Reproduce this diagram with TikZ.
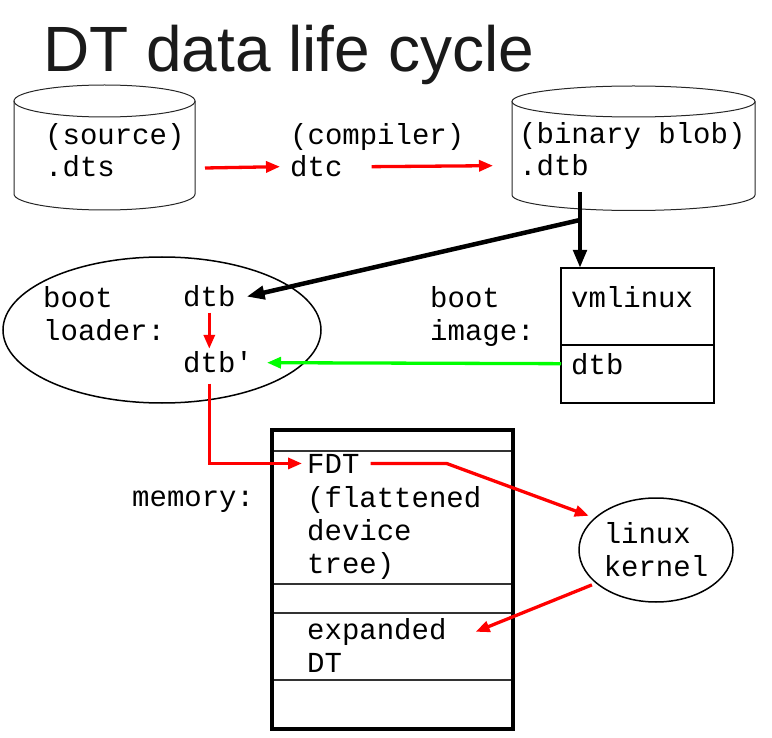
\documentclass[tikz,border=0pt]{standalone}
\usepackage{fontspec}
\setmainfont{Liberation Sans}
\setmonofont{Liberation Mono}
\usetikzlibrary{arrows.meta,calc,shapes.geometric}
\definecolor{titlegray}{HTML}{1A1A1A}
\def\drum(#1,#2:#3:#4:#5){\draw[drumline] (#1,#2) ellipse [x radius=#4, y radius=#5];
	\draw[drumline] ($(#1,#2)+(-#4,0)$) -- ($(#1,#3)+(-#4,0)$) arc [start angle=180, end angle=0, x radius=#4, y radius=#5] -- ($(#1,#2)+(#4,0)$);}
\tikzset{
	mono/.style={font=\ttfamily\fontsize{29}{33}\selectfont, inner sep=0pt, anchor=base west, align=left},
	drumline/.style={line width=1pt, black!85},
	redarr/.style={line width=3.3pt, red, -{Triangle[length=14pt,width=11pt]}},
	greenarr/.style={line width=3.3pt, green, -{Triangle[length=14pt,width=11pt]}},
	blackarr/.style={line width=4.5pt, black, -{Triangle[length=18pt,width=13pt]}},
}

\begin{document}
\begin{tikzpicture}[x=1pt, y=-1pt]
			%%%%% START %%%%%
			\useasboundingbox (0,0) rectangle (772,738);
			
			\node[inner sep=0pt, anchor=base west, text=titlegray, font=\fontsize{64}{70}\selectfont] (title) at (43,72) {DT data life cycle};
			
			% source and blob
			\drum(104.5,101:194:90.5:16)
			\drum(633.5,101.5:195:121.5:15.5)
			\node[mono] (srcLbl) at (45,145) {(source)};
			\node[mono] (srcExt) at (45,177) {.dts};
			\node[mono] (compLbl) at (290,145) {(compiler)};
			\node[mono] (dtc) at (290,177) {dtc};
			\node[mono] (blobLbl) at (519,144) {(binary blob)};
			\node[mono] (blobExt) at (519,176) {.dtb};
			\coordinate (srcEdge) at (205,168);
			\coordinate (blobOut) at (580,192);
			\coordinate (split) at (580,220);
			\coordinate (imgTop) at (580,268);
			
			% boot loader (multi-line nodes sit on their last baseline)
			\node[ellipse, draw, line width=1.5pt, minimum width=318, minimum height=146] (loader) at (162,330) {};
			\node[mono] (bootLbl) at (43,341) {boot\\loader:};
			\node[mono] (dtbIn) at (183,307) {dtb};
			\node[mono] (dtbMod) at (183,373) {dtb'};
			
			% boot image
			\draw[line width=2.2pt] (561,268) rectangle (714,403);
			\draw[line width=2.2pt] (561,345) -- (714,345);
			\node[mono] (imgLbl) at (430,341) {boot\\image:};
			\node[mono] (vmlinux) at (571,308) {vmlinux};
			\node[mono] (imgDtb) at (571,374) {dtb};
			
			% memory
			\draw[line width=3.3pt] (272,430) rectangle (513,729);
			\foreach \y in {451,584,613,680}
				\draw[line width=1.3pt, black!80] (274,\y) -- (511,\y);
			\node[mono] (memLbl) at (132,506) {memory:};
			\node[mono] (fdt) at (307,473) {FDT};
			\node[mono] (fdtNote) at (307,573) {(flattened\\device\\tree)};
			\node[mono] (expanded) at (307,672) {expanded\\DT};
			
			% kernel
			\node[ellipse, draw, line width=1.5pt, minimum width=154, minimum height=104, inner sep=0pt, align=left, font=\ttfamily\fontsize{29}{33}\selectfont] (kernel) at (656,550) {linux\\kernel};
			
			% arrows
			\draw[redarr] (srcEdge) -- ([xshift=-10pt]dtc.west);
			\draw[redarr] ([xshift=29pt]dtc.east) -- ([xshift=-26pt]blobExt.west);
			\draw[blackarr] (blobOut) -- (imgTop);
			\draw[blackarr] (split) -- ([xshift=11pt]dtbIn.east);
			\draw[redarr] ([yshift=-5pt]dtbIn.south) -- ([yshift=3pt]dtbMod.north -| dtbIn.south);
			\draw[greenarr] ([xshift=-10pt]imgDtb.west) -- ([xshift=14pt]dtbMod.east);
			\draw[redarr] ([yshift=-10pt]dtbIn.south |- dtbMod.south) |- ([xshift=-5pt]fdt.west);
			\draw[redarr] ([xshift=11pt]fdt.east) -- ++(76,0) -- ([xshift=-8pt]kernel.150);
			\draw[redarr] ([yshift=-5pt]kernel.205) -- ([shift={(29pt,-14pt)}]expanded.north east);
			
			%%%%% END %%%%%
\end{tikzpicture}
\end{document}
